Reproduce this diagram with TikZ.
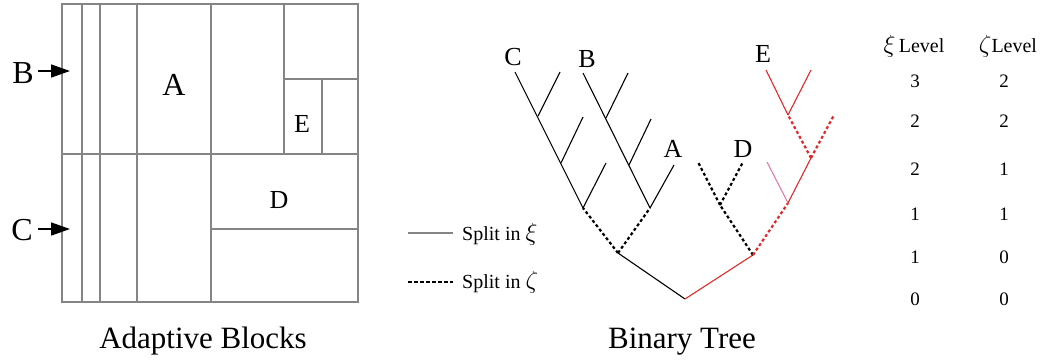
\documentclass[tikz,border=0pt]{standalone}
\usepackage{fontspec}
\setmainfont{Liberation Serif}
\usetikzlibrary{arrows.meta}
\definecolor{grid}{HTML}{858585}
\definecolor{cut}{HTML}{E02A2A}
\definecolor{soft}{HTML}{E27AAE}

\begin{document}
\begin{tikzpicture}[x=1pt,y=-1pt,
    blk/.style={draw=grid,line width=1.5pt},
    blkb/.style={draw=grid,line width=2.6pt},
    big/.style={anchor=base,inner sep=0pt,font=\fontsize{32}{36}\selectfont},
    mid/.style={anchor=base,inner sep=0pt,font=\fontsize{26}{30}\selectfont},
    caption/.style={anchor=base,inner sep=0pt,font=\fontsize{31}{36}\selectfont},
    num/.style={anchor=base,inner sep=0pt,font=\fontsize{19}{22}\selectfont},
    leg/.style={anchor=base west,inner sep=0pt,font=\fontsize{20}{24}\selectfont},
    xi/.style={line width=1.1pt},
    zeta/.style={line width=2.2pt,dash pattern=on 3pt off 2.5pt},
    arr/.style={-{Triangle[length=19pt,width=13pt]},line width=1.6pt}]
  \useasboundingbox (0,0) rectangle (1048,360);
  % adaptive blocks
  \draw[blk] (62,4) rectangle (358,302);
  \draw[blk] (82,4) -- (82,302);
  \draw[blkb] (100,4) -- (100,302);
  \draw[blkb] (137,4) -- (137,302);
  \draw[blk] (211,4) -- (211,302);
  \draw[blkb] (62,154) -- (358,154);
  \draw[blkb] (284,4) -- (284,154);
  \draw[blk] (284,79) -- (358,79);
  \draw[blk] (322,79) -- (322,154);
  \draw[blk] (211,229) -- (358,229);
  \node[big] (bA) at (174,95) {A};
  \node[mid] (bD) at (279,208) {D};
  \node[mid] (bE) at (302,132) {E};
  \node[big] (bB) at (23,83) {B};
  \node[big] (bC) at (22,240) {C};
  \coordinate (fromB) at (38,71);
  \coordinate (inB) at (70,71);
  \coordinate (fromC) at (38,229);
  \coordinate (inC) at (70,229);
  \draw[arr] (fromB) -- (inB);
  \draw[arr] (fromC) -- (inC);
  \node[caption] (capA) at (203,348) {Adaptive Blocks};

  % binary tree
  \coordinate (r) at (685,299);
  \coordinate (L) at (618,253);
  \coordinate (R) at (753,255);
  \coordinate (c1) at (583,208);
  \coordinate (c2) at (561,163);
  \coordinate (c3) at (538,116);
  \coordinate (c4) at (515,72);
  \coordinate (b1) at (650,208);
  \coordinate (b2) at (629,165);
  \coordinate (b3) at (606,118);
  \coordinate (b4) at (583,73);
  \coordinate (d0) at (720,205);
  \coordinate (e1) at (788,203);
  \coordinate (e2) at (811,158);
  \coordinate (e3) at (788,115);
  \draw[xi] (r) -- (L);
  \draw[xi,cut] (r) -- (R);
  \draw[zeta] (L) -- (c1);
  \draw[zeta] (L) -- (b1);
  \draw[xi] (c1) -- (c4);
  \draw[xi] (c1) -- (606,163);
  \draw[xi] (c2) -- (583,117);
  \draw[xi] (c3) -- (560,72);
  \draw[xi] (b1) -- (b4);
  \draw[xi] (b1) -- (674,165);
  \draw[xi] (b2) -- (651,119);
  \draw[xi] (b3) -- (628,73);
  \draw[zeta] (R) -- (d0);
  \draw[zeta] (d0) -- (698,162);
  \draw[zeta] (d0) -- (743,162);
  \draw[zeta,cut] (R) -- (e1);
  \draw[xi,soft] (e1) -- (767,162);
  \draw[xi,cut] (e1) -- (e2);
  \draw[zeta,cut] (e2) -- (e3);
  \draw[zeta,cut] (e2) -- (834,115);
  \draw[xi,cut] (e3) -- (766,70);
  \draw[xi,cut] (e3) -- (811,70);
  \node[mid] (tC) at (513,65) {C};
  \node[mid] (tB) at (587,67) {B};
  \node[mid] (tA) at (673,157) {A};
  \node[mid] (tD) at (743,157) {D};
  \node[mid] (tE) at (763,62) {E};
  \node[caption] (capT) at (682,348) {Binary Tree};

  % legend
  \node[leg] (lgxi) at (462,240) {Split in \fontsize{26}{30}\selectfont$\xi$};
  \node[leg] (lgze) at (462,288) {Split in \fontsize{26}{30}\selectfont$\zeta$};
  \coordinate (sxi) at (408,233);
  \coordinate (exi) at (453,233);
  \coordinate (sze) at (408,282);
  \coordinate (eze) at (453,282);
  \draw[line width=1.6pt,grid] (sxi) -- (exi);
  \draw[line width=1.6pt,dash pattern=on 3.5pt off 2.5pt] (sze) -- (eze);

  % level table
  \node[num,font=\fontsize{20}{24}\selectfont] (hxi) at (914,52) {{\fontsize{27}{30}\selectfont$\xi$}\,Level};
  \node[num,font=\fontsize{20}{24}\selectfont] (hze) at (1008,52) {{\fontsize{27}{30}\selectfont$\zeta$}Level};
  \foreach \a/\b/\y [count=\i] in {3/2/87,2/2/127,2/1/175,1/1/220,1/0/263,0/0/305} {
    \node[num] (xi\i) at (915,\y) {\a};
    \node[num] (ze\i) at (1004,\y) {\b};
  }
\end{tikzpicture}
\end{document}
